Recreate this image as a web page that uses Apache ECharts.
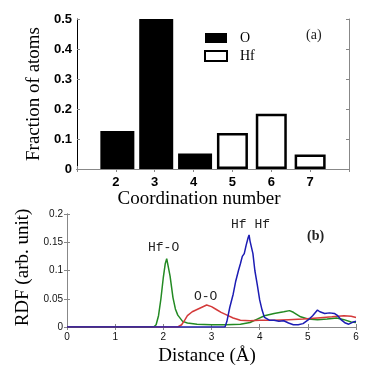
<!DOCTYPE html>
<html>
<head>
<meta charset="utf-8">
<script src="https://cdn.jsdelivr.net/npm/echarts@6/dist/echarts.min.js"></script>
<style>
html, body { margin: 0; padding: 0; background: #fff; }
#chart { width: 374px; height: 367px; }
</style>
</head>
<body>
<div id="chart"></div>
<script>
// (a) coordination number histogram
var coordO = [[2, 0.127], [3, 0.5], [4, 0.052]];
var coordHf = [[5, 0.12], [6, 0.184], [7, 0.048]];
var coordTicks = [2, 3, 4, 5, 6, 7];

// (b) radial distribution functions, [distance, rdf]
var rdfHfO = [
    [0, 0], [1.8, 0], [1.85, 0.004], [1.9, 0.02], [1.95, 0.05], [2.0, 0.088], [2.04, 0.112],
    [2.07, 0.121], [2.1, 0.118], [2.14, 0.09], [2.2, 0.052], [2.25, 0.032], [2.3, 0.021],
    [2.4, 0.01], [2.5, 0.007], [2.7, 0.005], [3.0, 0.004], [3.3, 0.004], [3.6, 0.005],
    [3.8, 0.008], [3.95, 0.014], [4.1, 0.02], [4.3, 0.024], [4.5, 0.027], [4.62, 0.029],
    [4.7, 0.026], [4.85, 0.018], [5.0, 0.014], [5.2, 0.013], [5.4, 0.014], [5.6, 0.016],
    [5.75, 0.013], [5.9, 0.009], [6.0, 0.008]
];
var rdfOO = [
    [0, 0], [2.3, 0], [2.38, 0.004], [2.45, 0.013], [2.5, 0.02], [2.6, 0.027], [2.7, 0.031],
    [2.8, 0.035], [2.9, 0.039], [3.0, 0.036], [3.1, 0.031], [3.2, 0.026], [3.3, 0.022],
    [3.45, 0.016], [3.6, 0.012], [3.8, 0.011], [4.0, 0.012], [4.3, 0.012], [4.6, 0.013],
    [4.9, 0.014], [5.2, 0.016], [5.5, 0.018], [5.75, 0.02], [5.9, 0.019], [6.0, 0.017]
];
var rdfHfHf = [
    [0, 0], [3.28, 0], [3.32, 0.01], [3.38, 0.035], [3.45, 0.058], [3.5, 0.08], [3.56, 0.1],
    [3.6, 0.112], [3.64, 0.125], [3.68, 0.13], [3.72, 0.145], [3.76, 0.158], [3.78, 0.163],
    [3.8, 0.152], [3.83, 0.15], [3.86, 0.13], [3.9, 0.1], [3.95, 0.075], [4.0, 0.048],
    [4.05, 0.03], [4.1, 0.017], [4.2, 0.012], [4.3, 0.012], [4.4, 0.01], [4.5, 0.011],
    [4.6, 0.007], [4.7, 0.004], [4.8, 0.004], [4.9, 0.006], [5.0, 0.012], [5.1, 0.02],
    [5.2, 0.03], [5.25, 0.027], [5.35, 0.024], [5.45, 0.025], [5.55, 0.024], [5.62, 0.02],
    [5.7, 0.012], [5.78, 0.007], [5.85, 0.005], [5.95, 0.009], [6.0, 0.01]
];

var serif = 'Liberation Serif';
var sans = 'Liberation Sans';
var mono = 'Liberation Mono';

var chart = echarts.init(document.getElementById('chart'));
var option = {
    animation: false,
    grid: [
        {left: 77, right: 25, top: 19, height: 150},
        {left: 67, right: 18, top: 214, height: 115}
    ],
    legend: {
        left: 199, top: 26, orient: 'vertical', itemGap: 4,
        itemWidth: 22, itemHeight: 10, icon: 'rect',
        textStyle: {fontFamily: serif, fontSize: 14, color: '#000', padding: [0, 0, 0, 8]},
        data: ['O', 'Hf']
    },
    xAxis: [
        {
            gridIndex: 0, type: 'value', min: 1, max: 8, interval: 1,
            name: 'Coordination number', nameLocation: 'middle', nameGap: 19,
            nameTextStyle: {fontFamily: serif, fontSize: 19, color: '#000', padding: [0, 28, 0, 0]},
            axisLine: {lineStyle: {color: '#000'}},
            axisTick: {inside: true, length: 3, lineStyle: {color: '#888'}},
            splitLine: {show: false},
            axisLabel: {
                fontFamily: sans, fontWeight: 'bold', fontSize: 13, color: '#000', margin: 7,
                formatter: function (v) { return coordTicks.indexOf(v) >= 0 ? String(v) : ''; }
            }
        },
        {
            gridIndex: 0, type: 'value', min: 1, max: 8, interval: 1, position: 'top',
            axisLine: {lineStyle: {color: '#888'}},
            axisTick: {inside: true, length: 3, lineStyle: {color: '#888'}},
            axisLabel: {show: false}, splitLine: {show: false}
        },
        {
            gridIndex: 1, type: 'value', min: 0, max: 6, interval: 1,
            name: 'Distance (Å)', nameLocation: 'middle', nameGap: 20,
            nameTextStyle: {fontFamily: serif, fontSize: 19, color: '#000', padding: [0, 9, 0, 0]},
            axisLine: {lineStyle: {color: '#666'}},
            axisTick: {inside: true, length: 3, lineStyle: {color: '#888'}},
            splitLine: {show: false},
            axisLabel: {fontFamily: sans, fontSize: 10, color: '#111', margin: 5}
        },
        {
            gridIndex: 1, type: 'value', min: 0, max: 6, interval: 1, position: 'top',
            axisLine: {lineStyle: {color: '#888'}},
            axisTick: {inside: true, length: 3, lineStyle: {color: '#888'}},
            axisLabel: {show: false}, splitLine: {show: false}
        }
    ],
    yAxis: [
        {
            gridIndex: 0, type: 'value', min: 0, max: 0.5, interval: 0.1,
            name: 'Fraction of atoms', nameLocation: 'middle', nameGap: 33,
            nameTextStyle: {fontFamily: serif, fontSize: 19, color: '#000'},
            axisLine: {show: true, lineStyle: {color: '#000'}},
            axisTick: {inside: true, length: 3, lineStyle: {color: '#888'}},
            splitLine: {show: false},
            axisLabel: {fontFamily: sans, fontWeight: 'bold', fontSize: 13, color: '#000', margin: 5}
        },
        {
            gridIndex: 0, type: 'value', min: 0, max: 0.5, interval: 0.1, position: 'right',
            axisLine: {show: true, lineStyle: {color: '#888'}},
            axisTick: {inside: true, length: 3, lineStyle: {color: '#888'}},
            axisLabel: {show: false}, splitLine: {show: false}
        },
        {
            gridIndex: 1, type: 'value', min: 0, max: 0.2, interval: 0.05,
            name: 'RDF (arb. unit)', nameLocation: 'middle', nameGap: 28,
            nameTextStyle: {fontFamily: serif, fontSize: 19, color: '#000', padding: [0, 0, 0, 6]},
            axisLine: {show: true, lineStyle: {color: '#666'}},
            axisTick: {inside: true, length: 3, lineStyle: {color: '#888'}},
            splitLine: {show: false},
            axisLabel: {fontFamily: sans, fontSize: 10, color: '#111', margin: 4}
        },
        {
            gridIndex: 1, type: 'value', min: 0, max: 0.2, interval: 0.05, position: 'right',
            axisLine: {show: true, lineStyle: {color: '#888'}},
            axisTick: {inside: true, length: 3, lineStyle: {color: '#888'}},
            axisLabel: {show: false}, splitLine: {show: false}
        }
    ],
    series: [
        {
            name: 'O', type: 'bar', xAxisIndex: 0, yAxisIndex: 0,
            barWidth: 34, barGap: '-100%',
            itemStyle: {color: '#000', borderColor: '#000', borderWidth: 0},
            data: coordO
        },
        {
            name: 'Hf', type: 'bar', xAxisIndex: 0, yAxisIndex: 0,
            barWidth: 31, barGap: '-100%',
            itemStyle: {color: '#fff', borderColor: '#000', borderWidth: 2.5},
            data: coordHf
        },
        {
            name: 'Hf-O', type: 'line', xAxisIndex: 2, yAxisIndex: 2, showSymbol: false,
            lineStyle: {color: '#238a23', width: 1.5}, data: rdfHfO
        },
        {
            name: 'O-O', type: 'line', xAxisIndex: 2, yAxisIndex: 2, showSymbol: false,
            lineStyle: {color: '#d43a3a', width: 1.5}, data: rdfOO
        },
        {
            name: 'Hf-Hf', type: 'line', xAxisIndex: 2, yAxisIndex: 2, showSymbol: false,
            lineStyle: {color: '#1c1cb4', width: 1.5}, data: rdfHfHf
        }
    ],
    graphic: [
        {type: 'text', left: 306, top: 28, style: {text: '(a)', font: '14px ' + serif, fill: '#222'}},
        {type: 'text', left: 307, top: 229, style: {text: '(b)', font: 'bold 14px ' + serif, fill: '#222'}},
        {type: 'text', left: 148, top: 241, style: {text: 'Hf-O', font: '13px ' + mono, fill: '#222'}},
        {type: 'text', left: 194, top: 290, style: {text: 'O-O', font: '13px ' + mono, fill: '#222'}},
        {type: 'text', left: 231, top: 218, style: {text: 'Hf Hf', font: '13px ' + mono, fill: '#222'}}
    ]
};
chart.setOption(option);
</script>
</body>
</html>
